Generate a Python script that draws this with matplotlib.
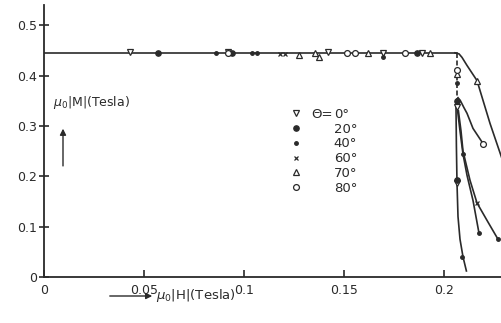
import matplotlib
matplotlib.use("Agg")
import matplotlib.pyplot as plt
from matplotlib.lines import Line2D

# ---- data ----
Ms = 0.445
H_flat_end = 0.2065

thetas = ["0°", "20°", "40°", "60°", "70°", "80°"]
markers = ["v", "o", ".", "x", "^", "o"]
filled = [False, True, True, True, False, False]

# data points lying on the saturated plateau (mu0 H)
plateau_H = {
    "0°": [0.043, 0.092, 0.142, 0.1695, 0.189],
    "20°": [0.057, 0.094, 0.1865],
    "40°": [0.086, 0.104, 0.1065, 0.1695],
    "60°": [0.118, 0.1205],
    "70°": [0.1275, 0.1355, 0.1375, 0.162, 0.193],
    "80°": [0.092, 0.1515, 0.1555, 0.1805],
}
plateau_M = {
    "0°": [0.447, 0.447, 0.447, 0.445, 0.445],
    "20°": [0.445, 0.444, 0.445],
    "40°": [0.445, 0.445, 0.445, 0.437],
    "60°": [0.443, 0.443],
    "70°": [0.440, 0.445, 0.437, 0.445, 0.445],
    "80°": [0.445, 0.445, 0.445, 0.445],
}

# points on and beyond the switching field
drop_H = {
    "0°": [0.2065, 0.2065],
    "20°": [0.2065, 0.2065],
    "40°": [0.2065, 0.2092, 0.2270],
    "70°": [0.2065],
    "80°": [0.2065],
}
drop_M = {
    "0°": [0.337, 0.186],
    "20°": [0.350, 0.192],
    "40°": [0.386, 0.040, 0.075],
    "70°": [0.404],
    "80°": [0.411],
}

# demagnetisation branches beyond the switching field
branch_H = {
    "0°": [0.2060, 0.2062, 0.2065, 0.2070, 0.2080, 0.2095, 0.2112],
    "40°": [0.2068, 0.2080, 0.2095, 0.2115, 0.2145, 0.2175],
    "60°": [0.2072, 0.2085, 0.2095, 0.2130, 0.2165, 0.2220, 0.2270],
    "70°": [0.2055, 0.2075, 0.2090, 0.2115, 0.2165, 0.2230, 0.2290],
    "80°": [0.2070, 0.2082, 0.2100, 0.2115, 0.2145, 0.2195],
}
branch_M = {
    "0°": [0.337, 0.260, 0.186, 0.120, 0.075, 0.040, 0.012],
    "40°": [0.330, 0.290, 0.244, 0.202, 0.152, 0.087],
    "60°": [0.330, 0.290, 0.250, 0.192, 0.147, 0.109, 0.075],
    "70°": [0.445, 0.443, 0.436, 0.420, 0.390, 0.305, 0.235],
    "80°": [0.356, 0.350, 0.336, 0.325, 0.295, 0.265],
}
branch_marks = {
    "0°": [],
    "40°": [2, 5],
    "60°": [4],
    "70°": [4],
    "80°": [5],
}

xticks = [0, 0.05, 0.1, 0.15, 0.2]
xticklabels = ["0", "0.05", "0.1", "0.15", "0.2"]
yticks = [0, 0.1, 0.2, 0.3, 0.4, 0.5]
yticklabels = ["0", "0.1", "0.2", "0.3", "0.4", "0.5"]

# ---- figure ----
ink = "#2a2a2a"
fig = plt.figure(figsize=(5.01, 3.23), dpi=100)
ax = fig.add_axes([44 / 501, 46 / 323, 457 / 501, 272 / 323])
ax.set_xlim(0, 0.2285)
ax.set_ylim(0, 0.54)

for s in ["top", "right"]:
    ax.spines[s].set_visible(False)
for s in ["left", "bottom"]:
    ax.spines[s].set_color(ink)
    ax.spines[s].set_linewidth(1.3)

# plateau line
ax.plot([0, H_flat_end], [Ms, Ms], color=ink, lw=1.2, zorder=2)
# vertical drop (dashed part)
ax.plot([0.2065, 0.2065], [Ms, 0.345], color=ink, lw=1.2, ls=(0, (3, 1.5)), zorder=2)

def mstyle(i):
    m = markers[i]
    if m == ".":
        return dict(marker=m, ms=5, mfc=ink, mec=ink)
    if m == "x":
        return dict(marker=m, ms=3.5, mec=ink, mew=0.9)
    if filled[i]:
        return dict(marker=m, ms=3.8, mfc=ink, mec=ink)
    return dict(marker=m, ms=4.2, mfc="white", mec=ink, mew=0.9)

for i, th in enumerate(thetas):
    st = mstyle(i)
    if th in branch_H:
        ax.plot(branch_H[th], branch_M[th], color=ink, lw=1.2, zorder=2)
        if branch_marks[th]:
            ax.plot([branch_H[th][k] for k in branch_marks[th]],
                    [branch_M[th][k] for k in branch_marks[th]],
                    ls="none", zorder=4, **st)
    ax.plot(plateau_H[th], plateau_M[th], ls="none", zorder=4, **st)
    if th in drop_H:
        ax.plot(drop_H[th], drop_M[th], ls="none", zorder=4, **st)

# ticks
ax.set_xticks(xticks)
ax.set_xticklabels(xticklabels)
ax.set_yticks(yticks)
ax.set_yticklabels(yticklabels)
ax.tick_params(axis="x", direction="in", length=5, width=1.2, color=ink,
               labelcolor=ink, labelsize=9, pad=5)
ax.tick_params(axis="y", direction="inout", length=6.5, width=1.2, color=ink,
               labelcolor=ink, labelsize=9, pad=2)

# axis labels with arrows
ax.text(0.0045, 0.346, r"$\mu_0$|M|(Tesla)", fontsize=9, color=ink,
        transform=ax.transData, ha="left", va="center")
ax.annotate("", xy=(0.0095, 0.300), xytext=(0.0095, 0.215),
            arrowprops=dict(arrowstyle="-|>", color=ink, lw=1.0,
                            mutation_scale=9))
ax.annotate("", xy=(155 / 501, 1 - 296 / 323), xytext=(107 / 501, 1 - 296 / 323),
            xycoords="figure fraction", textcoords="figure fraction",
            arrowprops=dict(arrowstyle="-|>", color=ink, lw=1.0,
                            mutation_scale=9))
fig.text(156 / 501, 1 - 296 / 323, r"$\mu_0$|H|(Tesla)", fontsize=9.5,
         color=ink, ha="left", va="center")

# legend
handles = [Line2D([], [], ls="none", **mstyle(i)) for i in range(len(thetas))]
leg = ax.legend(handles, thetas, loc="upper left",
                bbox_to_anchor=((289 - 44) / 457, (277 - 108) / 272),
                frameon=False, fontsize=9.5, handlelength=1.0,
                handletextpad=2.4, labelspacing=0.13, borderpad=0,
                borderaxespad=0)
for t in leg.get_texts():
    t.set_color(ink)

fig.canvas.draw()
ext = leg.get_texts()[0].get_window_extent()
fig.text(ext.x0 - 1, (ext.y0 + ext.y1) / 2, "Θ=", fontsize=9.5, color=ink,
         ha="right", va="center", transform=None)

fig.savefig("out.png", dpi=100, facecolor="white")
